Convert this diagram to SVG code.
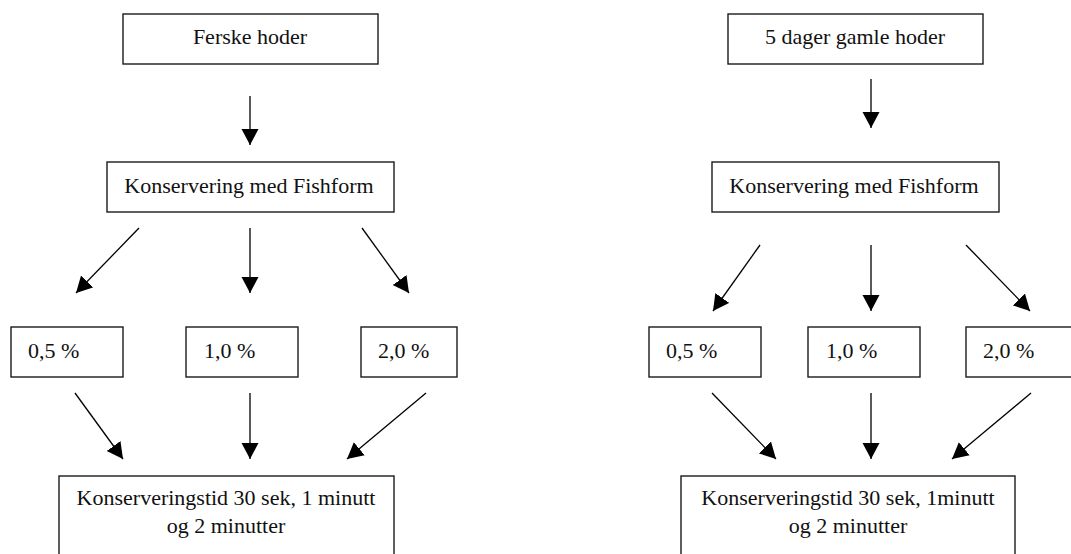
<svg xmlns="http://www.w3.org/2000/svg" width="1071" height="554" viewBox="0 0 1071 554">
<style>
.box{fill:#fff;stroke:#1a1a1a;stroke-width:1.4}
.t{font-family:"Liberation Serif","Times New Roman",serif;font-size:22px;fill:#111}
.c{text-anchor:middle}
.con line{stroke:#000;stroke-width:1.3;marker-end:url(#ah)}
</style>
<defs>
<marker id="ah" markerUnits="userSpaceOnUse" markerWidth="17" markerHeight="18" refX="16" refY="8.5" orient="auto" viewBox="0 0 17 17">
<path d="M0,0 L16,8.5 L0,17 Z" fill="#000"/>
</marker>
</defs>
<rect width="1071" height="554" fill="#fff"/>
<g id="L-ferske"><rect class="box" x="123" y="14" width="255" height="50"/><text class="t c" x="250" y="44">Ferske hoder</text></g>
<g id="L-kons"><rect class="box" x="107" y="162" width="287" height="50"/><text class="t c" x="249" y="193">Konservering med Fishform</text></g>
<g id="L-05"><rect class="box" x="11" y="327" width="112" height="50"/><text class="t" x="28" y="358">0,5 %</text></g>
<g id="L-10"><rect class="box" x="186" y="327" width="112" height="50"/><text class="t" x="204" y="358">1,0 %</text></g>
<g id="L-20"><rect class="box" x="361" y="327" width="96" height="50"/><text class="t" x="378" y="358">2,0 %</text></g>
<g id="L-tid"><rect class="box" x="59" y="476" width="335" height="100"/><text class="t c" x="226" y="505">Konserveringstid 30 sek, 1 minutt</text><text class="t c" x="226" y="533">og 2 minutter</text></g>
<g id="R-gamle"><rect class="box" x="728" y="14" width="255" height="50"/><text class="t c" x="855" y="44">5 dager gamle hoder</text></g>
<g id="R-kons"><rect class="box" x="712" y="162" width="287" height="50"/><text class="t c" x="854" y="193">Konservering med Fishform</text></g>
<g id="R-05"><rect class="box" x="649" y="327" width="112" height="50"/><text class="t" x="666" y="358">0,5 %</text></g>
<g id="R-10"><rect class="box" x="808" y="327" width="112" height="50"/><text class="t" x="826" y="358">1,0 %</text></g>
<g id="R-20"><rect class="box" x="966" y="327" width="120" height="50"/><text class="t" x="983" y="358">2,0 %</text></g>
<g id="R-tid"><rect class="box" x="681" y="476" width="334" height="100"/><text class="t c" x="848" y="505">Konserveringstid 30 sek, 1minutt</text><text class="t c" x="848" y="533">og 2 minutter</text></g>
<g id="connectors" class="con">
<line x1="250" y1="96" x2="250" y2="145"/>
<line x1="139" y1="228" x2="76" y2="293"/>
<line x1="250" y1="228" x2="250" y2="293"/>
<line x1="362" y1="228" x2="409" y2="293"/>
<line x1="75" y1="393" x2="123" y2="459"/>
<line x1="250" y1="393" x2="250" y2="459"/>
<line x1="426" y1="393" x2="347" y2="459"/>
<line x1="871" y1="79" x2="871" y2="128"/>
<line x1="760" y1="245" x2="713" y2="311"/>
<line x1="871" y1="245" x2="871" y2="311"/>
<line x1="966" y1="245" x2="1030" y2="311"/>
<line x1="712" y1="393" x2="776" y2="459"/>
<line x1="871" y1="393" x2="871" y2="459"/>
<line x1="1031" y1="393" x2="952" y2="459"/>
</g>
</svg>
